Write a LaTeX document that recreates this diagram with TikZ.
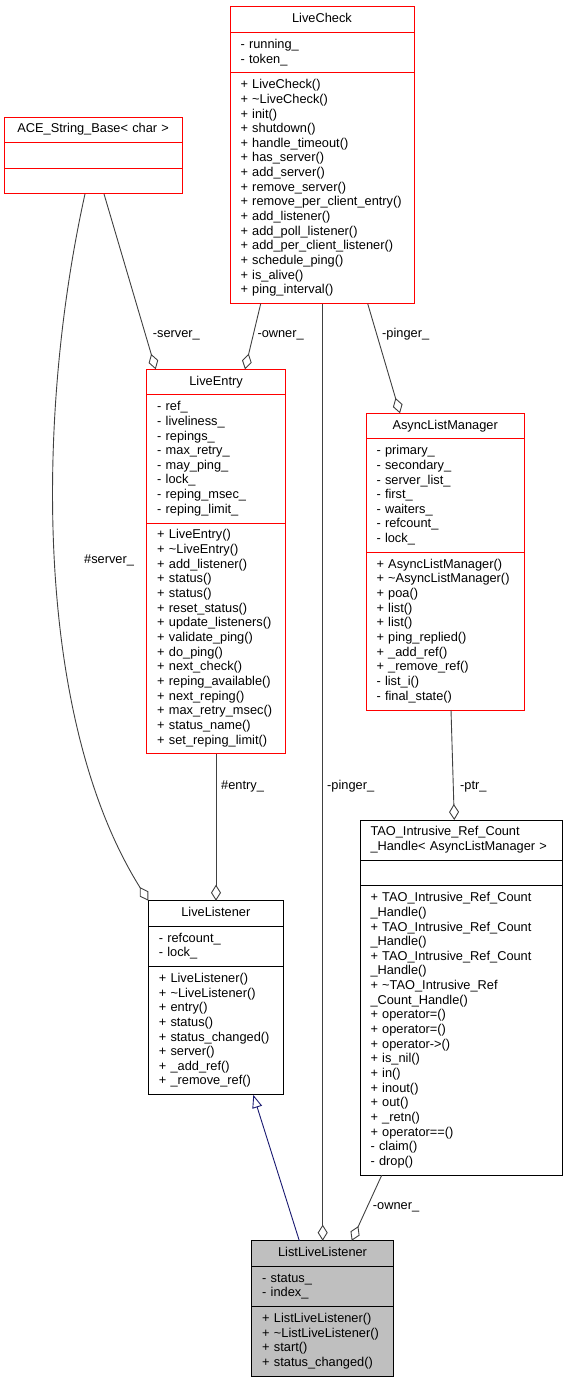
\documentclass[tikz,border=0pt]{standalone}
\usepackage{fontspec}
\setmainfont{Liberation Sans}
\usetikzlibrary{positioning, arrows.meta}

\definecolor{edgegray}{HTML}{404040}
\definecolor{inhblue}{HTML}{191970}
\definecolor{boxgray}{HTML}{BFBFBF}

\tikzset{
    compartment/.style={draw=#1, line width=1pt, inner xsep=10.5pt, inner ysep=5.5pt, outer sep=0pt,
        font=\fontsize{12.8}{14.65}\selectfont,
        execute at begin node=\strut, execute at end node=\strut},
    clstitle/.style={compartment=#1, align=center},
    members/.style={compartment=#1, align=left},
    agg/.style={draw=edgegray, line width=0.9pt, -{Diamond[open, length=16pt, width=10pt]}},
    inherit/.style={draw=inhblue, line width=0.9pt, -{Triangle[open, length=13pt, width=10pt]}},
    lbl/.style={anchor=west, inner sep=0pt, text height=9pt, text depth=3pt, font=\fontsize{12.8}{14.65}\selectfont}
}

\begin{document}
\begin{tikzpicture}[x=1pt, y=-1pt]
    \useasboundingbox (0,0) rectangle (568,1381);

    % --- ACE_String_Base< char > ---
    \node[clstitle=red, text width=156.7pt, anchor=north west] (ace) at (4.3,117) {ACE\_String\_Base< char >};
    \node[members=red, text width=156.7pt, below=0pt of ace] (ace-attr) {};
    \node[members=red, text width=156.7pt, below=0pt of ace-attr] (ace-ops) {};

    % --- LiveCheck ---
    \node[clstitle=red, text width=163pt, anchor=north west] (livecheck) at (230,7) {LiveCheck};
    \node[members=red, text width=163pt, below=0pt of livecheck] (livecheck-attr) {- running\_\\- token\_};
    \node[members=red, text width=163pt, below=0pt of livecheck-attr] (livecheck-ops) {+ LiveCheck()\\+ \textasciitilde LiveCheck()\\+ init()\\+ shutdown()\\+ handle\_timeout()\\+ has\_server()\\+ add\_server()\\+ remove\_server()\\+ remove\_per\_client\_entry()\\+ add\_listener()\\+ add\_poll\_listener()\\+ add\_per\_client\_listener()\\+ schedule\_ping()\\+ is\_alive()\\+ ping\_interval()};

    % --- LiveEntry ---
    \node[clstitle=red, text width=117.7pt, anchor=north west] (liveentry) at (146.7,369.3) {LiveEntry};
    \node[members=red, text width=117.7pt, below=0pt of liveentry] (liveentry-attr) {- ref\_\\- liveliness\_\\- repings\_\\- max\_retry\_\\- may\_ping\_\\- lock\_\\- reping\_msec\_\\- reping\_limit\_};
    \node[members=red, text width=117.7pt, below=0pt of liveentry-attr] (liveentry-ops) {+ LiveEntry()\\+ \textasciitilde LiveEntry()\\+ add\_listener()\\+ status()\\+ status()\\+ reset\_status()\\+ update\_listeners()\\+ validate\_ping()\\+ do\_ping()\\+ next\_check()\\+ reping\_available()\\+ next\_reping()\\+ max\_retry\_msec()\\+ status\_name()\\+ set\_reping\_limit()};

    % --- AsyncListManager ---
    \node[clstitle=red, text width=137.3pt, anchor=north west] (alm) at (366,413.3) {AsyncListManager};
    \node[members=red, text width=137.3pt, below=0pt of alm] (alm-attr) {- primary\_\\- secondary\_\\- server\_list\_\\- first\_\\- waiters\_\\- refcount\_\\- lock\_};
    \node[members=red, text width=137.3pt, below=0pt of alm-attr] (alm-ops) {+ AsyncListManager()\\+ \textasciitilde AsyncListManager()\\+ poa()\\+ list()\\+ list()\\+ ping\_replied()\\+ \_add\_ref()\\+ \_remove\_ref()\\- list\_i()\\- final\_state()};

    % --- TAO_Intrusive_Ref_Count_Handle< AsyncListManager > ---
    \node[members=black, text width=181.7pt, anchor=north west] (tao) at (360,820) {TAO\_Intrusive\_Ref\_Count\\\_Handle< AsyncListManager >};
    \node[members=black, text width=181.7pt, below=0pt of tao] (tao-attr) {};
    \node[members=black, text width=181.7pt, below=0pt of tao-attr] (tao-ops) {+ TAO\_Intrusive\_Ref\_Count\\\_Handle()\\+ TAO\_Intrusive\_Ref\_Count\\\_Handle()\\+ TAO\_Intrusive\_Ref\_Count\\\_Handle()\\+ \textasciitilde TAO\_Intrusive\_Ref\\\_Count\_Handle()\\+ operator=()\\+ operator=()\\+ operator->()\\+ is\_nil()\\+ in()\\+ inout()\\+ out()\\+ \_retn()\\+ operator==()\\- claim()\\- drop()};

    % --- LiveListener ---
    \node[clstitle=black, text width=114pt, anchor=north west] (livelistener) at (148.3,900.7) {LiveListener};
    \node[members=black, text width=114pt, below=0pt of livelistener] (livelistener-attr) {- refcount\_\\- lock\_};
    \node[members=black, text width=114pt, below=0pt of livelistener-attr] (livelistener-ops) {+ LiveListener()\\+ \textasciitilde LiveListener()\\+ entry()\\+ status()\\+ status\_changed()\\+ server()\\+ \_add\_ref()\\+ \_remove\_ref()};

    % --- ListLiveListener (the class itself, gray) ---
    \node[clstitle=black, fill=boxgray, text width=120.7pt, anchor=north west] (lll) at (251.7,1240.7) {ListLiveListener};
    \node[members=black, fill=boxgray, text width=120.7pt, below=0pt of lll] (lll-attr) {- status\_\\- index\_};
    \node[members=black, fill=boxgray, text width=120.7pt, below=0pt of lll-attr] (lll-ops) {+ ListLiveListener()\\+ \textasciitilde ListLiveListener()\\+ start()\\+ status\_changed()};

    % --- Connectors ---
    \draw[agg] ([xshift=99.7pt]ace-ops.south west) -- ([xshift=9pt]liveentry.north west);
    \draw[agg] ([xshift=80.7pt]ace-ops.south west) .. controls (35,420) and (35,720) .. (livelistener.north west);
    \draw[agg] ([xshift=30.7pt]livecheck-ops.south west) -- ([xshift=98.3pt]liveentry.north west);
    \draw[agg] ([xshift=137.7pt]livecheck-ops.south west) -- ([xshift=34pt]alm.north west);
    \draw[agg] ([xshift=92.7pt]livecheck-ops.south west) -- ([xshift=71pt]lll.north west);
    \draw[agg] ([xshift=69.3pt]liveentry-ops.south west) -- ([xshift=67.7pt]livelistener.north west);
    \draw[agg] ([xshift=85pt]alm-ops.south west) -- ([xshift=94.3pt]tao.north west);
    \draw[agg] ([xshift=21.7pt]tao-ops.south west) -- ([xshift=100pt]lll.north west);
    \draw[inherit] ([xshift=47.6pt]lll.north west) -- ([xshift=105pt]livelistener-ops.south west);

    % --- Connector labels ---
    \node[lbl] (lbl-server) at (152.7,334.7) {-server\_};
    \node[lbl] (lbl-owner) at (257.3,334.7) {-owner\_};
    \node[lbl] (lbl-pinger) at (382,334.7) {-pinger\_};
    \node[lbl] (lbl-hserver) at (84,560) {\#server\_};
    \node[lbl] (lbl-entry) at (221,786) {\#entry\_};
    \node[lbl] (lbl-pinger2) at (327,786) {-pinger\_};
    \node[lbl] (lbl-ptr) at (460,786) {-ptr\_};
    \node[lbl] (lbl-owner2) at (372.7,1206.7) {-owner\_};
\end{tikzpicture}
\end{document}
